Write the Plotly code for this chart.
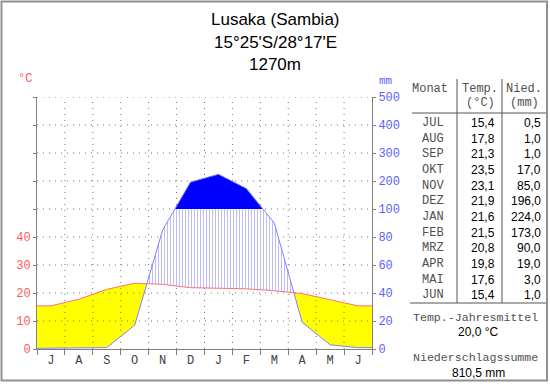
import plotly.graph_objects as go

# ---------------- data ----------------
axis_months = ["J", "A", "S", "O", "N", "D", "J", "F", "M", "A", "M", "J"]
table_months = ["JUL", "AUG", "SEP", "OKT", "NOV", "DEZ", "JAN", "FEB", "MRZ", "APR", "MAI", "JUN"]
temp = [15.4, 17.8, 21.3, 23.5, 23.1, 21.9, 21.6, 21.5, 20.8, 19.8, 17.6, 15.4]
precip = [0.5, 1.0, 1.0, 17.0, 85.0, 196.0, 224.0, 173.0, 90.0, 19.0, 3.0, 1.0]
temp_ticks = [0, 10, 20, 30, 40]
precip_ticks = [0, 20, 40, 60, 80, 100, 200, 300, 400, 500]
title_lines = ["Lusaka (Sambia)", "15°25'S/28°17'E", "1270m"]
annual_temp = "20,0 °C"
annual_precip = "810,5 mm"


def fmt(v):
    return f"{v:.1f}".replace(".", ",")


# precipitation -> display scale (20 mm = 10 °C up to 100 mm, then 100 mm = 10 °C)
def p2y(mm):
    return mm / 2.0 if mm <= 100 else 50.0 + (mm - 100.0) / 10.0


grid_levels = [p2y(v) for v in precip_ticks]

xs = [0.0] + [i + 0.5 for i in range(12)] + [12.0]
T = [temp[0]] + temp + [temp[-1]]
P = [p2y(precip[0])] + [p2y(v) for v in precip] + [p2y(precip[-1])]

# refine with crossing points
X, TT, PP = [xs[0]], [T[0]], [P[0]]
for i in range(len(xs) - 1):
    x0, x1, t0, t1, p0, p1 = xs[i], xs[i + 1], T[i], T[i + 1], P[i], P[i + 1]
    cuts = []
    d0, d1 = p0 - t0, p1 - t1
    if d0 * d1 < 0:
        cuts.append(d0 / (d0 - d1))
    e0, e1 = p0 - 50, p1 - 50
    if e0 * e1 < 0:
        cuts.append(e0 / (e0 - e1))
    for f in sorted(cuts):
        X.append(x0 + f * (x1 - x0))
        TT.append(t0 + f * (t1 - t0))
        PP.append(p0 + f * (p1 - p0))
    X.append(x1); TT.append(t1); PP.append(p1)

low_y = [min(t, p) for t, p in zip(TT, PP)]
hatch_up = [max(t, min(p, 50.0)) for t, p in zip(TT, PP)]
bx = [x for x, p in zip(X, PP) if p >= 50 - 1e-9]
by = [p for p in PP if p >= 50 - 1e-9]

RED = "#ff5a5a"
BLUE_T = "#5f5fff"
GRAY = "#808080"

fig = go.Figure()
# yellow (arid)
fig.add_trace(go.Scatter(x=X, y=low_y, mode="lines", line=dict(width=0), hoverinfo="skip", showlegend=False))
fig.add_trace(go.Scatter(x=X, y=TT, mode="lines", line=dict(width=0), fill="tonexty",
                         fillcolor="#ffff00", hoverinfo="skip", showlegend=False))
# grid (dotted) drawn above yellow
gx, gy = [], []
for k in range(1, 12):
    gx += [k, k, None]; gy += [0, grid_levels[-1], None]
for lv in grid_levels[1:]:
    gx += [0, 12, None]; gy += [lv, lv, None]
fig.add_trace(go.Scatter(x=gx, y=gy, mode="lines", line=dict(color="#777777", width=1, dash="1px,5px"),
                         hoverinfo="skip", showlegend=False))
# hatch (humid)
fig.add_trace(go.Scatter(x=X, y=TT, mode="lines", line=dict(width=0), hoverinfo="skip", showlegend=False))
fig.add_trace(go.Scatter(x=X, y=hatch_up, mode="lines", line=dict(width=0), fill="tonexty",
                         fillcolor="rgba(0,0,0,0)",
                         fillpattern=dict(shape="|", size=3, solidity=0.34, fgcolor="#7a7aff", bgcolor="white"),
                         hoverinfo="skip", showlegend=False))
# solid blue (> 100 mm)
fig.add_trace(go.Scatter(x=bx + bx[::-1], y=by + [50.0] * len(bx), mode="lines", line=dict(width=0),
                         fill="toself", fillcolor="#0000ff", hoverinfo="skip", showlegend=False))
# lines
fig.add_trace(go.Scatter(x=xs, y=P, mode="lines", line=dict(color="#8080ff", width=1),
                         hoverinfo="skip", showlegend=False))
fig.add_trace(go.Scatter(x=xs, y=T, mode="lines", line=dict(color="#ff7070", width=1),
                         hoverinfo="skip", showlegend=False))
# dummy for y2
fig.add_trace(go.Scatter(x=[0], y=[0], yaxis="y2", mode="lines", line=dict(width=0), hoverinfo="skip",
                         showlegend=False))

L, R, TOP, BOT = 37, 372, 97, 349
W, H = 550, 384


def px(xp):
    return (xp - L) / (R - L)


def py(yp):
    return (BOT - yp) / (BOT - TOP)


mono = "Liberation Mono"
sans = "Liberation Sans"
TXT = "#505050"

fig.update_layout(
    width=W, height=H,
    margin=dict(l=L, r=W - R, t=TOP, b=H - BOT, autoexpand=False),
    paper_bgcolor="white", plot_bgcolor="white",
    xaxis=dict(range=[0, 12], tickvals=[i + 0.5 for i in range(12)], ticktext=axis_months,
               ticks="", showgrid=False, zeroline=False, showline=True, linecolor=GRAY, linewidth=1,
               tickfont=dict(family=mono, size=12, color="#404040"), automargin=False,
               minor=dict(tick0=0, dtick=1, ticks="outside", ticklen=5, tickcolor=GRAY, showgrid=False),
               fixedrange=True),
    yaxis=dict(range=[0, grid_levels[-1]], tickvals=grid_levels,
               ticktext=[str(v) for v in temp_ticks] + [""] * (len(grid_levels) - len(temp_ticks)),
               ticks="outside", ticklen=3, tickcolor=GRAY, showgrid=False, zeroline=False,
               showline=True, linecolor=GRAY, linewidth=1,
               tickfont=dict(family=mono, size=12, color=RED), automargin=False, fixedrange=True),
    yaxis2=dict(range=[0, grid_levels[-1]], overlaying="y", side="right", tickvals=grid_levels,
                ticktext=[str(v) for v in precip_ticks], ticks="outside", ticklen=3, tickcolor=GRAY,
                showgrid=False, zeroline=False, showline=True, linecolor=GRAY, linewidth=1,
                tickfont=dict(family=mono, size=12, color=BLUE_T), automargin=False, fixedrange=True),
    showlegend=False,
)

ann = []


def text(x, y, s, font, size, color, anchor="center"):
    ann.append(dict(x=px(x), y=py(y), xref="paper", yref="paper", text=s, showarrow=False,
                    xanchor=anchor, yanchor="middle", font=dict(family=font, size=size, color=color)))


for i, (s, yy) in enumerate(zip(title_lines, [19, 42, 64])):
    text(275, yy, s, sans, 17, "black")
text(25, 79, "°C", mono, 12, RED)
text(386, 81, "mm", mono, 11, BLUE_T)

# table header
text(430, 89, "Monat", mono, 12, TXT)
text(480, 89, "Temp.", mono, 12, TXT)
text(524, 89, "Nied.", mono, 12, TXT)
text(480, 103, "(°C)", mono, 12, TXT)
text(524, 103, "(mm)", mono, 12, TXT)
row0, dy = 123, 15.65
for i in range(12):
    yy = row0 + i * dy
    text(446, yy, table_months[i], mono, 12, TXT, "right")
    text(497, yy, fmt(temp[i]), sans, 12, "black", "right")
    text(543, yy, fmt(precip[i]), sans, 12, "black", "right")
text(475, 317, "Temp.-Jahresmittel", mono, 11.6, TXT)
text(478, 332, annual_temp, sans, 12, "black")
text(475, 357, "Niederschlagssumme", mono, 11.6, TXT)
text(478, 373, annual_precip, sans, 12, "black")

fig.update_layout(annotations=ann)

shapes = []


def line(x0, y0, x1, y1, color="#555555", width=1):
    shapes.append(dict(type="line", xref="paper", yref="paper", x0=px(x0), y0=py(y0), x1=px(x1), y1=py(y1),
                       line=dict(color=color, width=width)))


line(412, 113, 546, 113)
line(410, 303, 547, 303)
line(457, 79, 457, 303)
line(502, 79, 502, 303)
shapes.append(dict(type="rect", xref="paper", yref="paper", x0=px(1.5), y0=py(1.5), x1=px(547), y1=py(380.5),
                   line=dict(color="#909090", width=2), fillcolor="rgba(0,0,0,0)"))
fig.update_layout(shapes=shapes)

fig.write_html("out.html", config={"displayModeBar": False},
               post_script="document.body.style.margin='0px';document.body.style.overflow='hidden';")
